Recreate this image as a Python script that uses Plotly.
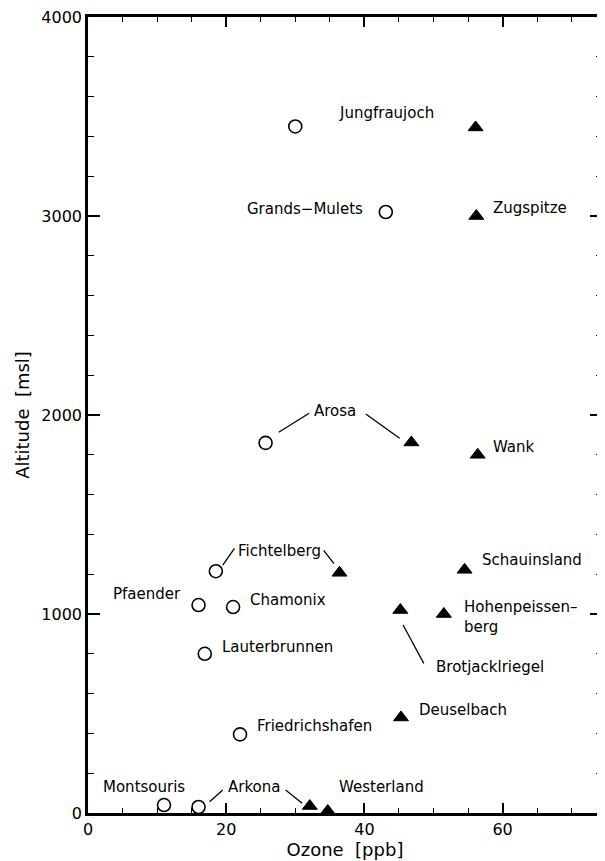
import plotly.graph_objects as go

# Open circles (first group of stations)
circle_names = ["Jungfraujoch", "Grands-Mulets", "Arosa", "Fichtelberg", "Pfaender", "Chamonix",
                "Lauterbrunnen", "Friedrichshafen", "Montsouris", "Arkona"]
circle_ozone = [30.0, 43.1, 25.7, 18.5, 16.0, 21.0, 16.9, 22.0, 11.0, 16.0]
circle_alt = [3450, 3020, 1860, 1215, 1045, 1035, 800, 395, 40, 30]

# Filled triangles (second group of stations)
tri_names = ["Jungfraujoch", "Zugspitze", "Arosa", "Wank", "Fichtelberg", "Schauinsland",
             "Brotjacklriegel", "Hohenpeissenberg", "Deuselbach", "Arkona", "Westerland"]
tri_ozone = [56.1, 56.2, 46.8, 56.4, 36.4, 54.5, 45.2, 51.5, 45.3, 32.1, 34.7]
tri_alt = [3445, 3000, 1862, 1800, 1207, 1222, 1020, 1000, 480, 35, 10]

# Station labels: text, x, y, anchor
label_text = ["Jungfraujoch", "Grands\u2212Mulets", "Zugspitze", "Arosa", "Wank", "Fichtelberg",
              "Pfaender", "Chamonix", "Lauterbrunnen", "Schauinsland", "Hohenpeissen\u2013<br>berg",
              "Brotjacklriegel", "Deuselbach", "Friedrichshafen", "Montsouris", "Arkona", "Westerland"]
label_x = [36.1, 40.1, 58.3, 35.8, 58.3, 21.4, 13.8, 23.1, 19.1, 56.7, 54.1, 50.1, 47.6, 24.1, 8.06, 24.0, 36.1]
label_y = [3518, 3037, 3040, 2020, 1839, 1318, 1100, 1070, 836, 1271, 985, 735, 518, 439, 129, 130, 130]
label_anchor = ["left", "right", "left", "center", "left", "left", "right", "left", "left", "left", "left",
                "left", "left", "left", "center", "center", "left"]

# Leader lines: (x0, y0, x1, y1)
leader_lines = [
    (27.6, 1913, 32.0, 2009),
    (40.2, 2005, 45.1, 1883),
    (19.5, 1246, 21.2, 1330),
    (34.1, 1320, 35.6, 1253),
    (45.6, 945, 48.6, 752),
    (17.6, 57, 19.5, 116),
    (28.6, 116, 31.0, 49),
]

FONT = "DejaVu Sans"

fig = go.Figure()
fig.add_trace(go.Scatter(
    x=circle_ozone, y=circle_alt, mode="markers", text=circle_names,
    marker=dict(symbol="circle-open", size=13, color="black", line=dict(width=1.6, color="black")),
    showlegend=False, cliponaxis=False))
fig.add_trace(go.Scatter(
    x=tri_ozone, y=tri_alt, mode="markers", text=tri_names,
    marker=dict(symbol="triangle-up", size=13, color="black", line=dict(width=1, color="black")),
    showlegend=False, cliponaxis=False))

for t, x, y, a in zip(label_text, label_x, label_y, label_anchor):
    fig.add_annotation(x=x, y=y, text=t, showarrow=False, xanchor=a, yanchor="middle",
                       align="left", font=dict(family=FONT, size=15, color="black"))

for x0, y0, x1, y1 in leader_lines:
    fig.add_shape(type="line", x0=x0, y0=y0, x1=x1, y1=y1, xref="x", yref="y",
                  line=dict(color="black", width=1.3))

axis_common = dict(showline=True, linecolor="black", linewidth=2.5, mirror="ticks",
                   ticks="inside", tickcolor="black", tickwidth=1.5, showgrid=False, zeroline=False,
                   ticklabeloverflow="allow",
                   tickfont=dict(family=FONT, size=16, color="black"))

fig.update_xaxes(range=[0, 74.39], tickvals=[0, 20, 40, 60], ticklen=10,
                 minor=dict(dtick=5, ticks="inside", ticklen=5, tickcolor="black", tickwidth=1.3),
                 title=dict(text="Ozone\u00a0\u00a0[ppb]", font=dict(family=FONT, size=18, color="black"), standoff=2),
                 **axis_common)
fig.update_yaxes(range=[0, 4000], tickvals=[0, 1000, 2000, 3000, 4000], ticklen=12,
                 minor=dict(dtick=200, ticks="inside", ticklen=6, tickcolor="black", tickwidth=1.3),
                 title=dict(text="Altitude\u00a0\u00a0[msl]", font=dict(family=FONT, size=18, color="black"), standoff=8),
                 **axis_common)

fig.update_layout(width=597, height=853, margin=dict(l=80, r=0, t=9, b=48),
                  plot_bgcolor="white", paper_bgcolor="white")

fig.write_html("out.html")
